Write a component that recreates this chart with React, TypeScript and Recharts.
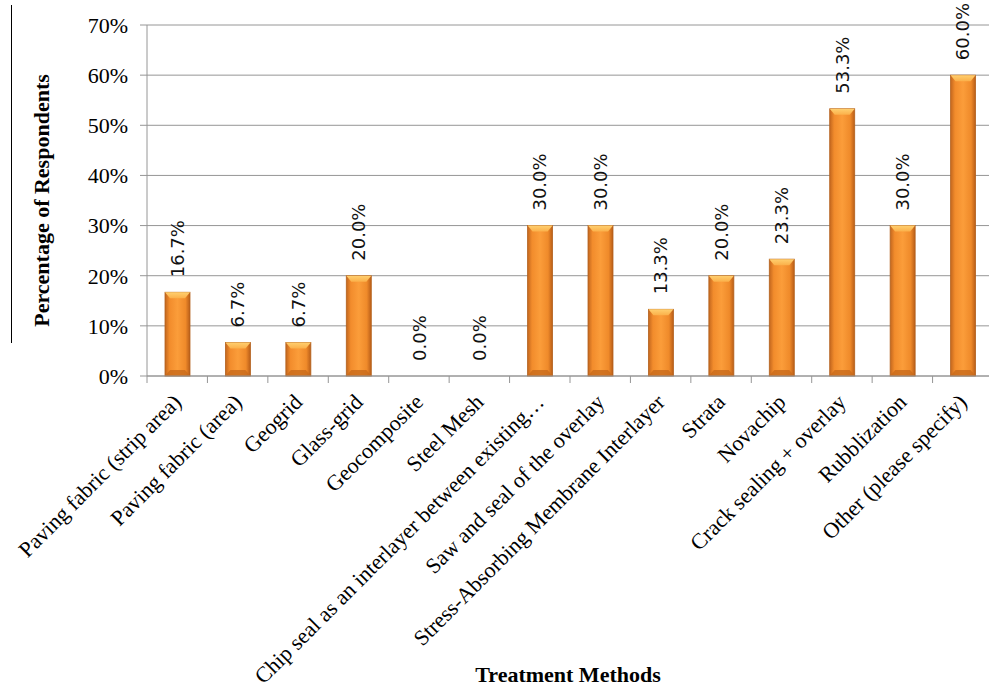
import React from "react";
import { Bar, BarChart, CartesianGrid, LabelList, XAxis, YAxis } from "recharts";

const categories = [
  "Paving fabric (strip area)",
  "Paving fabric (area)",
  "Geogrid",
  "Glass-grid",
  "Geocomposite",
  "Steel Mesh",
  "Chip seal as an interlayer between existing…",
  "Saw and seal of the overlay",
  "Stress-Absorbing Membrane Interlayer",
  "Strata",
  "Novachip",
  "Crack sealing + overlay",
  "Rubblization",
  "Other (please specify)",
];

const shares = [16.7, 6.7, 6.7, 20.0, 0.0, 0.0, 30.0, 30.0, 13.3, 20.0, 23.3, 53.3, 30.0, 60.0];

const yTicks = [0, 10, 20, 30, 40, 50, 60, 70];

const data = categories.map((name, i) => ({ name, value: shares[i] }));

const serif = "'Liberation Serif', 'Times New Roman', serif";
const gridColor = "#969696";

const CylinderBar = (props: any) => {
  const { x, y, width, height } = props;
  if (!height || height <= 0) return null;
  const bevel = Math.min(6, height / 2);
  return (
    <g>
      <rect x={x} y={y} width={width} height={height} fill="url(#barFill)" stroke="#b4621e" strokeWidth={0.8} />
      <polygon
        points={`${x},${y} ${x + width},${y} ${x + width - 5},${y + bevel} ${x + 5},${y + bevel}`}
        fill="url(#bevelTop)"
      />
      <polygon
        points={`${x + 5},${y + height - bevel} ${x + width - 5},${y + height - bevel} ${x + width},${y + height} ${x},${y + height}`}
        fill="#c86a1c"
        opacity={0.8}
      />
    </g>
  );
};

const ValueLabel = (props: any) => {
  const { x, y, width, value } = props;
  const cx = x + width / 2;
  const ty = y - 15;
  return (
    <text
      transform={`translate(${cx},${ty}) rotate(-90)`}
      textAnchor="start"
      dy="0.35em"
      fontSize={18}
      fontFamily="'DejaVu Sans', Verdana, sans-serif"
      fill="#111"
    >
      {`${Number(value).toFixed(1)}%`}
    </text>
  );
};

const CategoryTick = (props: any) => {
  const { x, y, payload, index } = props;
  const half = payload && payload.offset ? payload.offset : 30.2;
  const last = index === categories.length - 1;
  return (
    <g>
      <line x1={x - half} y1={y} x2={x - half} y2={y + 7} stroke={gridColor} />
      {last && <line x1={x + half} y1={y} x2={x + half} y2={y + 7} stroke={gridColor} />}
      <text
        transform={`translate(${x},${y + 22}) rotate(-45)`}
        textAnchor="end"
        dy="0.35em"
        fontSize={22}
        fontFamily={serif}
        fill="#000"
      >
        {payload.value}
      </text>
    </g>
  );
};

export default function App() {
  return (
    <div style={{ position: "absolute", left: 0, top: 0, width: 989, height: 688, overflow: "hidden", background: "#fff" }}>
      <div style={{ position: "absolute", left: 11, top: 5, width: 1, height: 338, background: "#000" }} />
      <BarChart
        width={993}
        height={688}
        data={data}
        margin={{ top: 25, right: 0, left: 0, bottom: 0 }}
        barSize={25}
      >
        <defs>
          <linearGradient id="barFill" x1="0" y1="0" x2="1" y2="0">
            <stop offset="0%" stopColor="#c2661e" />
            <stop offset="18%" stopColor="#f28c2c" />
            <stop offset="50%" stopColor="#fb9d3a" />
            <stop offset="82%" stopColor="#ef8a2a" />
            <stop offset="100%" stopColor="#b85d18" />
          </linearGradient>
          <linearGradient id="bevelTop" x1="0" y1="0" x2="0" y2="1">
            <stop offset="0%" stopColor="#ffd070" />
            <stop offset="100%" stopColor="#fbb04a" />
          </linearGradient>
        </defs>
        <CartesianGrid vertical={false} stroke={gridColor} />
        <XAxis
          dataKey="name"
          interval={0}
          tickLine={false}
          tickSize={0}
          tickMargin={0}
          height={312}
          axisLine={{ stroke: gridColor }}
          tick={<CategoryTick />}
          label={{
            content: ({ viewBox }: any) => (
              <text
                x={viewBox.x + viewBox.width / 2 - 2}
                y={viewBox.y + 306}
                textAnchor="middle"
                fontSize={22}
                fontWeight="bold"
                fontFamily={serif}
                fill="#000"
              >
                Treatment Methods
              </text>
            ),
          }}
        />
        <YAxis
          width={147}
          domain={[0, 70]}
          ticks={yTicks}
          interval={0}
          tickFormatter={(v: number) => `${v}%`}
          tickSize={7}
          tickMargin={12}
          tickLine={{ stroke: gridColor }}
          axisLine={{ stroke: gridColor }}
          tick={{ fontSize: 22, fontFamily: serif, fill: "#000" }}
          label={{
            content: ({ viewBox }: any) => (
              <text
                transform={`translate(${viewBox.x + 41},${viewBox.y + viewBox.height / 2}) rotate(-90)`}
                textAnchor="middle"
                dy="0.35em"
                fontSize={22}
                fontWeight="bold"
                fontFamily={serif}
                fill="#000"
              >
                Percentage of Respondents
              </text>
            ),
          }}
        />
        <Bar dataKey="value" shape={<CylinderBar />} isAnimationActive={false}>
          <LabelList dataKey="value" content={<ValueLabel />} />
        </Bar>
      </BarChart>
    </div>
  );
}
